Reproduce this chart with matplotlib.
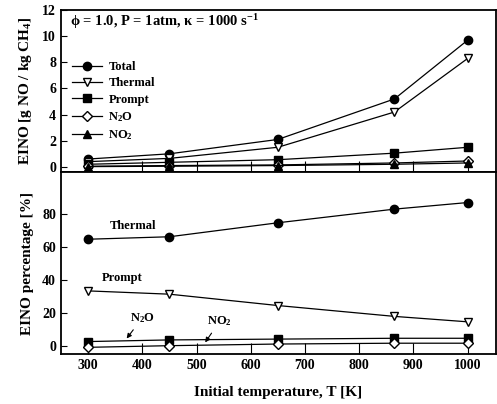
import matplotlib
matplotlib.use('Agg')
from matplotlib import pyplot as plt

plt.rcParams['font.family'] = ['Liberation Serif', 'DejaVu Serif']
plt.rcParams['font.weight'] = 'bold'
plt.rcParams['mathtext.fontset'] = 'custom'
plt.rcParams['mathtext.rm'] = 'Liberation Serif:bold'
plt.rcParams['mathtext.it'] = 'Liberation Serif:bold'
plt.rcParams['mathtext.bf'] = 'Liberation Serif:bold'

# initial temperature [K]
temps = [300, 450, 650, 865, 1000]

# EINO [g NO / kg CH4]
ei_total = [0.6, 1.0, 2.1, 5.2, 9.7]
ei_thermal = [0.4, 0.65, 1.5, 4.2, 8.3]
ei_prompt = [0.2, 0.35, 0.55, 1.05, 1.5]
ei_n2o = [0.05, 0.1, 0.15, 0.3, 0.45]
ei_no2 = [0.02, 0.05, 0.1, 0.2, 0.3]

# EINO percentage [%]
pct_thermal = [64.7, 66.2, 74.7, 83.0, 87.0]
pct_prompt = [33.3, 31.3, 24.4, 17.8, 14.5]
pct_n2o = [2.5, 3.5, 4.0, 4.5, 4.5]
pct_no2 = [-1.0, 0.0, 1.0, 1.5, 1.5]

x_ticks = [300, 400, 500, 600, 700, 800, 900, 1000]

fig = plt.figure(figsize=(4.97, 4.04), dpi=100)
ax1 = fig.add_axes([0.1227, 0.574, 0.875, 0.401])
ax2 = fig.add_axes([0.1227, 0.124, 0.875, 0.450], sharex=ax1)

ms = 6
kw = dict(color='black', lw=0.9)
ax1.plot(temps, ei_total, marker='o', ms=ms, label='Total', **kw)
ax1.plot(temps, ei_thermal, marker='v', ms=ms, mfc='white', label='Thermal', **kw)
ax1.plot(temps, ei_prompt, marker='s', ms=ms - 0.5, label='Prompt', **kw)
ax1.plot(temps, ei_n2o, marker='D', ms=ms - 1, mfc='white', label='N$_2$O', **kw)
ax1.plot(temps, ei_no2, marker='^', ms=ms, label='NO$_2$', **kw)

ax1.set_xlim(250, 1052)
ax1.set_ylim(-0.4, 12)
ax1.set_yticks(range(0, 13, 2))
ax1.set_ylabel('EINO [g NO / kg CH$_4$]', fontsize=11, fontweight='bold', labelpad=6)
ax1.text(0.02, 0.9, 'ϕ = 1.0, P = 1atm, κ = 1000 s$^{-1}$', transform=ax1.transAxes,
         fontsize=10.5, fontweight='bold')
ax1.legend(loc='upper left', bbox_to_anchor=(0.0, 0.755), frameon=False, fontsize=9,
           handlelength=2.4, labelspacing=0.35, handletextpad=0.5)
ax1.tick_params(axis='x', labelbottom=False)

ax2.plot(temps, pct_thermal, marker='o', ms=ms, **kw)
ax2.plot(temps, pct_prompt, marker='v', ms=ms, mfc='white', **kw)
ax2.plot(temps, pct_n2o, marker='s', ms=ms - 0.5, **kw)
ax2.plot(temps, pct_no2, marker='D', ms=ms - 1, mfc='white', **kw)

ax2.set_ylim(-5, 105.5)
ax2.set_yticks(range(0, 81, 20))
ax2.set_xticks(x_ticks)
ax2.set_ylabel('EINO percentage [%]', fontsize=11, fontweight='bold', labelpad=6)
ax2.set_xlabel('Initial temperature, T [K]', fontsize=11, fontweight='bold', labelpad=10)

ax2.text(340, 73, 'Thermal', fontsize=9, fontweight='bold', va='center')
ax2.text(326, 41, 'Prompt', fontsize=9, fontweight='bold', va='center')
ax2.annotate('N$_2$O', xy=(368, 3.0), xytext=(377, 15), fontsize=9, fontweight='bold',
             arrowprops=dict(arrowstyle='-|>', color='black', lw=0.8, mutation_scale=7))
ax2.annotate('NO$_2$', xy=(513, 0.6), xytext=(520, 13), fontsize=9, fontweight='bold',
             arrowprops=dict(arrowstyle='-|>', color='black', lw=0.8, mutation_scale=7))

for ax in (ax1, ax2):
    for sp in ax.spines.values():
        sp.set_linewidth(1.3)
    ax.tick_params(axis='x', direction='in', length=8, width=0.8, labelsize=10)
    ax.tick_params(axis='y', direction='in', length=4, width=0.8, labelsize=10)
    for lbl in ax.get_xticklabels() + ax.get_yticklabels():
        lbl.set_fontweight('bold')

fig.savefig('out.png', dpi=100)
